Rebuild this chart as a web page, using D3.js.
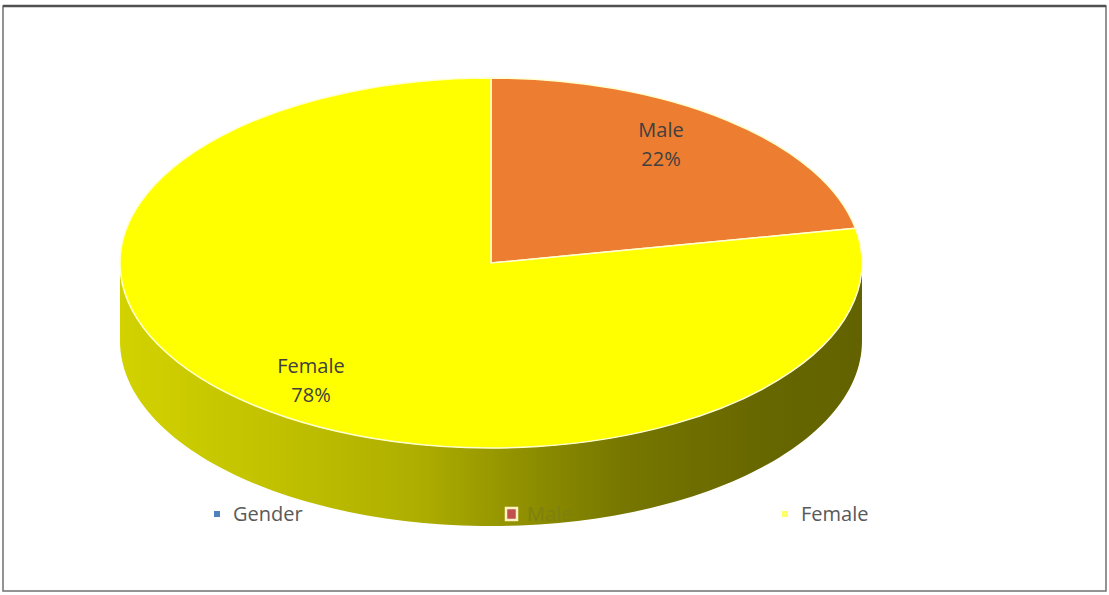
<!DOCTYPE html>
<html>
<head>
<meta charset="utf-8">
<script src="https://cdn.jsdelivr.net/npm/d3@7"></script>
<style>
  html, body { margin: 0; padding: 0; background: #fff; }
  svg { display: block; }
  text { font-family: "Open Sans", "Liberation Sans", sans-serif; }
</style>
</head>
<body>
<svg id="chart" width="1109" height="595"></svg>
<script>
// Gender split of respondents
const categories = ["Male", "Female"];
const values = [22, 78];
const sliceColors = ["#ED7D31", "#FFFF00"];
const legendLabels = ["Gender", "Male", "Female"];
const legendColors = ["#4F81BD", "#C0504D", "#FFFF66"];

const W = 1109, H = 595;
const cx = 491, cy = 263;   // centre of the top face
const rx = 371, ry = 185;   // ellipse radii of the tilted disc
const depth = 78;           // thickness of the disc

const svg = d3.select("#chart");

// frame around the chart area
svg.append("rect")
  .attr("x", 3).attr("y", 6).attr("width", W - 6).attr("height", H - 10)
  .attr("fill", "#fff").attr("stroke", "#707070").attr("stroke-width", 1.5);
svg.append("line")
  .attr("x1", 3).attr("x2", W - 3).attr("y1", 6).attr("y2", 6)
  .attr("stroke", "#505050").attr("stroke-width", 2.5);

const pie = d3.pie().sort(null).value(d => d.value);
const arcs = pie(categories.map((c, i) => ({ name: c, value: values[i], color: sliceColors[i] })));

// point on the ellipse for a pie angle (0 = 12 o'clock, clockwise)
const pt = (a, dy = 0) => [cx + rx * Math.sin(a), cy - ry * Math.cos(a) + dy];

const legendX = [217, 511, 785];
const legendY = 514;

// ---- side wall of the disc ----
const defs = svg.append("defs");
const grad = defs.append("linearGradient").attr("id", "sideGrad")
  .attr("gradientUnits", "userSpaceOnUse")
  .attr("x1", cx - rx).attr("x2", cx + rx).attr("y1", 0).attr("y2", 0);
[[0, "#D2D200"], [0.22, "#C0C000"], [0.4, "#AEAE00"], [0.53, "#929200"], [0.68, "#767600"], [0.85, "#686800"], [1, "#626200"]]
  .forEach(([o, c]) => grad.append("stop").attr("offset", o).attr("stop-color", c));

arcs.forEach(a => {
  const s = Math.max(a.startAngle, Math.PI / 2);
  const e = Math.min(a.endAngle, 3 * Math.PI / 2);
  if (e <= s) return;
  const n = 120;
  const top = d3.range(n + 1).map(k => pt(s + (e - s) * k / n));
  const bot = d3.range(n + 1).map(k => pt(e - (e - s) * k / n, depth));
  svg.append("path")
    .attr("d", "M" + top.concat(bot).map(p => p.join(",")).join("L") + "Z")
    .attr("fill", "url(#sideGrad)");
});

// ---- top face ----
const arc = d3.arc().innerRadius(0).outerRadius(rx);
const topG = svg.append("g").attr("transform", `translate(${cx},${cy}) scale(1,${ry / rx})`);
topG.selectAll("path").data(arcs).join("path")
  .attr("d", arc)
  .attr("fill", d => d.data.color)
  .attr("stroke", "#FFFFD0")
  .attr("stroke-width", 1.5)
  .attr("vector-effect", "non-scaling-stroke");

// ---- data labels ----
const labelArc = d3.arc().innerRadius(rx).outerRadius(rx);
const total = d3.sum(values);
arcs.forEach(a => {
  const [lx, ly] = labelArc.centroid(a);
  const x = cx - 5 + lx * 0.74, y = cy + ly * (ry / rx) * 0.83;
  const t = svg.append("text").attr("text-anchor", "middle")
    .attr("fill", "#404040").attr("font-size", 20);
  t.append("tspan").attr("x", x).attr("y", y - 8).text(a.data.name);
  t.append("tspan").attr("x", x).attr("y", y + 21)
    .text(Math.round(a.data.value / total * 100) + "%");
});

// ---- legend ----
legendLabels.forEach((lab, i) => {
  const g = svg.append("g").attr("transform", `translate(${legendX[i]},${legendY})`);
  if (i === 1) {
    g.append("rect").attr("x", -5).attr("y", -6).attr("width", 11).attr("height", 12)
      .attr("fill", legendColors[i]).attr("stroke", "#FFF3C4").attr("stroke-width", 2.5);
  } else {
    g.append("rect").attr("x", -3).attr("y", -3).attr("width", 6).attr("height", 6)
      .attr("fill", legendColors[i]);
  }
  g.append("text")
    .attr("x", 16).attr("y", 7)
    .attr("font-size", 20)
    .attr("fill", i === 1 ? "#7E8010" : "#595959")
    .text(lab);
});
</script>
</body>
</html>
